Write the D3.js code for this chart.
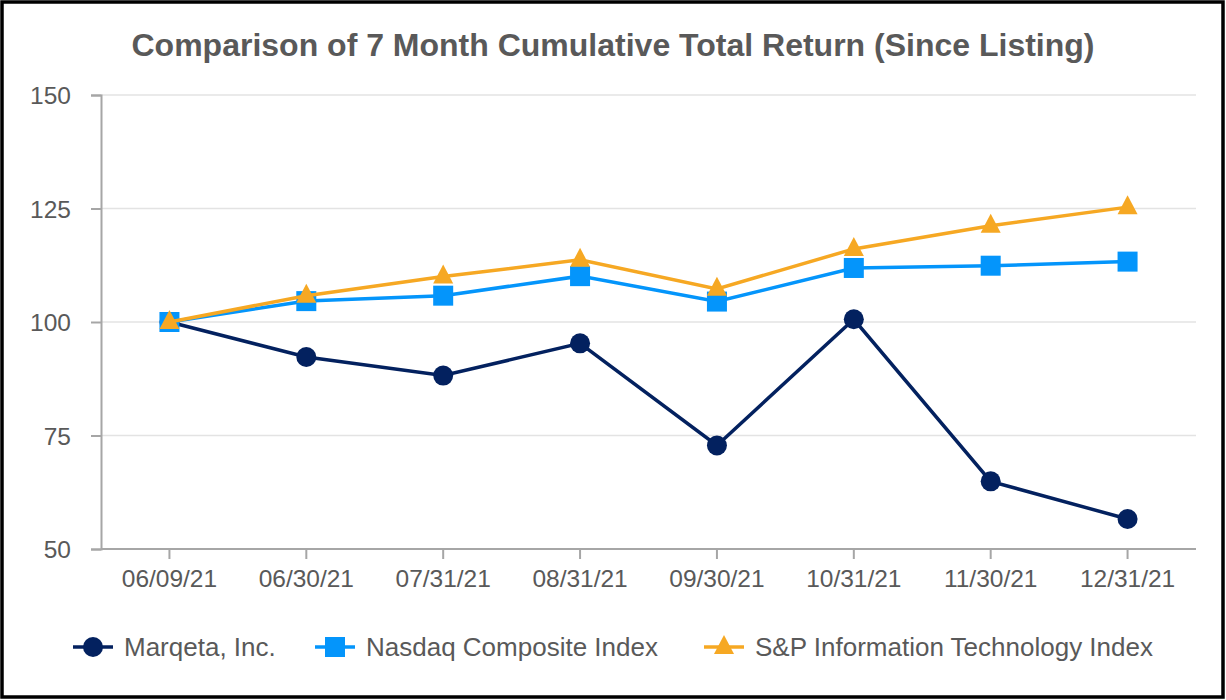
<!DOCTYPE html>
<html>
<head>
<meta charset="utf-8">
<script src="https://cdn.jsdelivr.net/npm/d3@7"></script>
<style>
  body { margin: 0; background: #fff; }
  svg { display: block; font-family: "Liberation Sans", Arial, sans-serif; }
</style>
</head>
<body>
<div id="chart"></div>
<script>
// Data
const dates = ["06/09/21", "06/30/21", "07/31/21", "08/31/21", "09/30/21", "10/31/21", "11/30/21", "12/31/21"];
const marqeta = [100, 92.3, 88.2, 95.3, 72.8, 100.6, 64.9, 56.6];
const nasdaq = [100, 104.6, 105.8, 110.1, 104.5, 111.9, 112.4, 113.3];
const spIT = [100, 105.8, 110.0, 113.7, 107.3, 116.1, 121.2, 125.3];
const yTicks = [50, 75, 100, 125, 150];

const series = [
  { name: "Marqeta, Inc.", values: marqeta, color: "#03215f", shape: "circle" },
  { name: "Nasdaq Composite Index", values: nasdaq, color: "#0495fb", shape: "square" },
  { name: "S&P Information Technology Index", values: spIT, color: "#f6a823", shape: "triangle" }
];

const W = 1226, H = 700;
const margin = { top: 95, right: 30, bottom: 151, left: 101 };

const svg = d3.select("#chart").append("svg")
  .attr("width", W)
  .attr("height", H);

svg.append("rect")
  .attr("x", 2).attr("y", 2)
  .attr("width", W - 5).attr("height", H - 5)
  .attr("fill", "#fff")
  .attr("stroke", "#000")
  .attr("stroke-width", 3.5);

// Title
svg.append("text")
  .attr("x", 613)
  .attr("y", 56)
  .attr("text-anchor", "middle")
  .attr("font-size", "32px")
  .attr("font-weight", "bold")
  .attr("fill", "#595959")
  .text("Comparison of 7 Month Cumulative Total Return (Since Listing)");

const x = d3.scaleBand()
  .domain(dates)
  .range([margin.left, W - margin.right]);

const y = d3.scaleLinear()
  .domain([50, 150])
  .range([H - margin.bottom, margin.top]);

// Gridlines
svg.append("g")
  .selectAll("line")
  .data(yTicks.filter(d => d !== 50))
  .enter()
  .append("line")
  .attr("x1", margin.left)
  .attr("x2", W - margin.right)
  .attr("y1", d => y(d))
  .attr("y2", d => y(d))
  .attr("stroke", "#e3e3e3")
  .attr("stroke-width", 1.5);

// Y axis
const yAxis = svg.append("g")
  .attr("transform", `translate(${margin.left},0)`)
  .call(d3.axisLeft(y).tickValues(yTicks).tickSize(10).tickPadding(20).tickFormat(d3.format("d")));

// X axis
const xAxis = svg.append("g")
  .attr("transform", `translate(0,${H - margin.bottom})`)
  .call(d3.axisBottom(x).tickSize(10).tickPadding(11));

[yAxis, xAxis].forEach(ax => {
  ax.select(".domain").attr("stroke", "#a6a6a6").attr("stroke-width", 2);
  ax.selectAll(".tick line").attr("stroke", "#a6a6a6").attr("stroke-width", 2);
  ax.selectAll(".tick text")
    .attr("fill", "#595959")
    .attr("font-size", "24.5px")
    .attr("font-family", "Liberation Sans, Arial, sans-serif");
});
yAxis.selectAll(".tick text").attr("dy", "0.35em");
xAxis.select(".domain").attr("d", `M${margin.left},0H${W - margin.right}`);

const cx = d => x(d) + x.bandwidth() / 2;

const line = d3.line()
  .x((d, i) => cx(dates[i]))
  .y(d => y(d));

function drawMarker(g, shape, color, px, py) {
  if (shape === "circle") {
    g.append("circle").attr("cx", px).attr("cy", py).attr("r", 10).attr("fill", color);
  } else if (shape === "square") {
    g.append("rect").attr("x", px - 10).attr("y", py - 10).attr("width", 20).attr("height", 20).attr("fill", color);
  } else {
    g.append("path")
      .attr("d", `M${px},${py - 12}L${px + 10},${py + 7}L${px - 10},${py + 7}Z`)
      .attr("fill", color);
  }
}

// Lines and markers, drawn bottom series first
series.forEach(s => {
  const g = svg.append("g");
  g.append("path")
    .datum(s.values)
    .attr("d", line)
    .attr("fill", "none")
    .attr("stroke", s.color)
    .attr("stroke-width", 3.5);
  s.values.forEach((v, i) => drawMarker(g, s.shape, s.color, cx(dates[i]), y(v)));
});

// Legend
const legendX = [73, 315, 704];
const legendY = 647;
series.forEach((s, i) => {
  const g = svg.append("g");
  g.append("line")
    .attr("x1", legendX[i]).attr("x2", legendX[i] + 40)
    .attr("y1", legendY).attr("y2", legendY)
    .attr("stroke", s.color)
    .attr("stroke-width", 3.5);
  drawMarker(g, s.shape, s.color, legendX[i] + 20, legendY);
  g.append("text")
    .attr("x", legendX[i] + 51)
    .attr("y", legendY)
    .attr("dy", "0.35em")
    .attr("font-size", "26px")
    .attr("fill", "#595959")
    .text(s.name);
});
</script>
</body>
</html>
